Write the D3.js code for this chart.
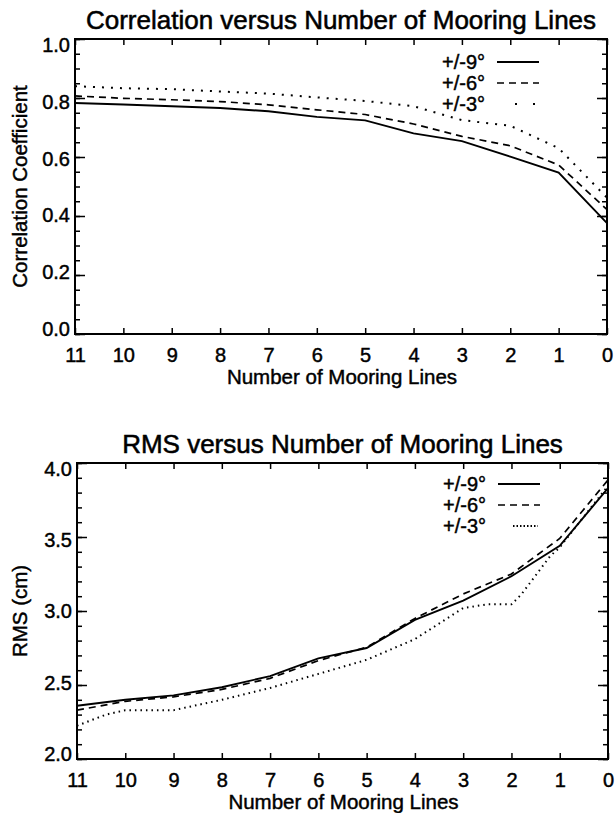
<!DOCTYPE html>
<html>
<head>
<meta charset="utf-8">
<script src="https://cdn.jsdelivr.net/npm/d3@7"></script>
<style>
  html, body { margin: 0; padding: 0; background: #fff; }
  svg text { font-family: "Liberation Sans", Arial, Helvetica, sans-serif; fill: #000; stroke: #000; stroke-width: 0.45px; }
</style>
</head>
<body>
<svg id="chart" width="615" height="813"></svg>
<script>
// ---------------- data ----------------
const mooringLines = [11, 10, 9, 8, 7, 6, 5, 4, 3, 2, 1, 0];
const xTickLabels = ["11", "10", "9", "8", "7", "6", "5", "4", "3", "2", "1", "0"];
const seriesNames = ["+/-9°", "+/-6°", "+/-3°"];

// Correlation coefficient
const corr9 = [0.783, 0.778, 0.772, 0.766, 0.755, 0.736, 0.724, 0.680, 0.654, 0.601, 0.547, 0.376];
const corr6 = [0.807, 0.799, 0.794, 0.788, 0.777, 0.760, 0.744, 0.712, 0.670, 0.638, 0.573, 0.422];
const corr3 = [0.840, 0.833, 0.830, 0.822, 0.815, 0.802, 0.790, 0.772, 0.725, 0.706, 0.630, 0.462];
const corrTicks = [0.0, 0.2, 0.4, 0.6, 0.8, 1.0];
const corrTickLabels = ["0.0", "0.2", "0.4", "0.6", "0.8", "1.0"];

// RMS (cm)
const rms9 = [2.36, 2.40, 2.43, 2.485, 2.56, 2.68, 2.75, 2.94, 3.07, 3.235, 3.44, 3.83];
const rms6 = [2.33, 2.39, 2.42, 2.47, 2.545, 2.665, 2.755, 2.95, 3.115, 3.25, 3.49, 3.885];
const rms3Lines = [11, 10.4, 10, 9, 8, 7, 6, 5, 4, 3, 2.5, 2, 1.8, 1.2, 1, 0];
const rms3 = [2.225, 2.30, 2.33, 2.33, 2.40, 2.48, 2.575, 2.67, 2.81, 3.02, 3.045, 3.045, 3.11, 3.37, 3.43, 3.845];
const rmsTicks = [2.0, 2.5, 3.0, 3.5, 4.0];
const rmsTickLabels = ["2.0", "2.5", "3.0", "3.5", "4.0"];

// ---------------- drawing ----------------
const svg = d3.select("#chart");

function panel(cfg) {
  const g = svg.append("g");
  const x = d3.scaleLinear().domain([11, 0]).range([cfg.left, cfg.right]);
  const y = d3.scaleLinear().domain(cfg.yDomain).range([cfg.bottom, cfg.top]);
  // label positions are slightly compressed relative to ticks (as in the original)
  const yLab = d3.scaleLinear().domain(cfg.yDomain).range([cfg.bottom - 5.5, cfg.top + 6]);

  // title
  g.append("text").attr("x", (cfg.left + cfg.right) / 2).attr("y", cfg.top - 10)
    .attr("text-anchor", "middle").style("font-size", "26px").style("stroke-width", "0.55px").text(cfg.title);

  // frame
  g.append("rect").attr("x", cfg.left).attr("y", cfg.top)
    .attr("width", cfg.right - cfg.left).attr("height", cfg.bottom - cfg.top)
    .attr("fill", "none").attr("stroke", "#000").attr("stroke-width", 2);

  // x axis ticks (bottom & top, inward)
  const xAxisB = d3.axisBottom(x).tickValues(mooringLines).tickSize(-6).tickFormat((d, i) => xTickLabels[i]).tickPadding(0);
  const xb = g.append("g").attr("transform", `translate(0,${cfg.bottom})`).call(xAxisB);
  xb.select(".domain").remove();
  xb.selectAll(".tick line").attr("stroke", "#000").attr("stroke-width", 1.5);
  xb.selectAll(".tick text").attr("y", 28).attr("dy", null).style("font-size", "20px");
  const xAxisT = d3.axisTop(x).tickValues(mooringLines).tickSize(-6).tickFormat("");
  const xt = g.append("g").attr("transform", `translate(0,${cfg.top})`).call(xAxisT);
  xt.select(".domain").remove();
  xt.selectAll(".tick line").attr("stroke", "#000").attr("stroke-width", 1.5);

  // y axis: minor + major ticks on both sides
  const minor = d3.range(cfg.yDomain[0], cfg.yDomain[1] + 1e-9, cfg.minorStep);
  [[d3.axisLeft, cfg.left], [d3.axisRight, cfg.right]].forEach(([axisFn, pos]) => {
    const am = axisFn(y).tickValues(minor).tickSize(-5).tickFormat("");
    const gm = g.append("g").attr("transform", `translate(${pos},0)`).call(am);
    gm.select(".domain").remove();
    gm.selectAll(".tick line").attr("stroke", "#000").attr("stroke-width", 1.5);
    const aM = axisFn(y).tickValues(cfg.yTicks).tickSize(-10).tickFormat("");
    const gM = g.append("g").attr("transform", `translate(${pos},0)`).call(aM);
    gM.select(".domain").remove();
    gM.selectAll(".tick line").attr("stroke", "#000").attr("stroke-width", 1.5);
  });
  // y tick labels
  g.append("g").selectAll("text").data(cfg.yTicks).join("text")
    .attr("x", cfg.left - 5).attr("y", d => yLab(d)).attr("dy", "0.36em")
    .attr("text-anchor", "end").style("font-size", "20px")
    .text((d, i) => cfg.yTickLabels[i]);

  // axis titles
  g.append("text").attr("x", (cfg.left + cfg.right) / 2 + 1).attr("y", cfg.bottom + 50)
    .attr("text-anchor", "middle").style("font-size", "20.5px").text("Number of Mooring Lines");
  g.append("text").attr("transform", `translate(27,${(cfg.top + cfg.bottom) / 2}) rotate(-90)`)
    .attr("text-anchor", "middle").style("font-size", "20.5px").text(cfg.yTitle);

  // series
  const line = d3.line().x(d => x(d[0])).y(d => y(d[1]));
  cfg.series.forEach(s => {
    const pts = s.xs.map((v, i) => [v, s.values[i]]);
    g.append("path").datum(pts).attr("d", line)
      .attr("fill", "none").attr("stroke", "#000")
      .attr("stroke-width", s.width).attr("stroke-dasharray", s.dash);
  });

  // legend
  cfg.series.forEach((s, i) => {
    const ly = cfg.legendY[i];
    g.append("text").attr("x", cfg.legendX).attr("y", ly).attr("dy", "0.36em")
      .style("font-size", "20px").text(seriesNames[i]);
    g.append("line").attr("x1", s.legX1).attr("x2", s.legX2).attr("y1", ly).attr("y2", ly)
      .attr("stroke", "#000").attr("stroke-width", s.width).attr("stroke-dasharray", s.legDash);
  });
}

panel({
  title: "Correlation versus Number of Mooring Lines",
  yTitle: "Correlation Coefficient",
  left: 75, right: 607, top: 39, bottom: 334,
  yDomain: [0, 1], yTicks: corrTicks, yTickLabels: corrTickLabels, minorStep: 0.05,
  legendX: 442, legendY: [62, 83, 104],
  series: [
    { xs: mooringLines, values: corr9, width: 1.9, dash: null, legDash: null, legX1: 497, legX2: 539 },
    { xs: mooringLines, values: corr6, width: 1.7, dash: "7,5", legDash: "7,5", legX1: 497, legX2: 539 },
    { xs: mooringLines, values: corr3, width: 2, dash: "2,7", legDash: "2,16", legX1: 515, legX2: 539 }
  ]
});

panel({
  title: "RMS versus Number of Mooring Lines",
  yTitle: "RMS (cm)",
  left: 77, right: 608, top: 463, bottom: 759,
  yDomain: [2, 4], yTicks: rmsTicks, yTickLabels: rmsTickLabels, minorStep: 0.1,
  legendX: 443, legendY: [484, 505, 526],
  series: [
    { xs: mooringLines, values: rms9, width: 1.9, dash: null, legDash: null, legX1: 498, legX2: 540 },
    { xs: mooringLines, values: rms6, width: 1.7, dash: "7,5", legDash: "7,5", legX1: 498, legX2: 540 },
    { xs: rms3Lines, values: rms3, width: 2, dash: "1.5,4", legDash: "1.5,2", legX1: 513, legX2: 538 }
  ]
});
</script>
</body>
</html>
